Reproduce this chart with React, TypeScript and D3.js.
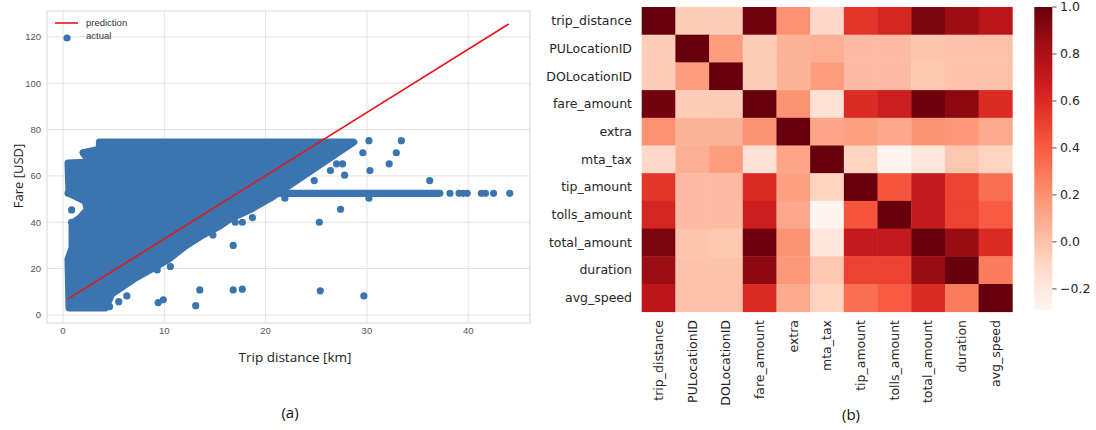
import React from "react";
import * as d3 from "d3";

// ---- (a) scatter: fare vs trip distance ----
// envelope of the dense point cloud (dot centres, km / USD)
const cloudOutline: [number, number][] = [
  [0.6, 3], [4.2, 3], [4.8, 9], [7, 15.5], [8.8, 20], [10.4, 24], [12, 29.5],
  [13.6, 34], [15.5, 38.5], [16.5, 41.5], [18.5, 45.5], [20.5, 50.5], [21.5, 53.5],
  [28.7, 74.6], [3.6, 74.6], [3.6, 71.5], [2, 70], [2.6, 66], [0.5, 65.5],
  [0.6, 52.5], [2.2, 49], [2.4, 45.5], [1.7, 42], [0.9, 39.5], [0.9, 29],
  [0.5, 24],
];
// flat-fare band
const bandX = [0.5, 37.2];
const bandY = 52.5;
// isolated trips
const outlierX = [30.2, 33.4, 29.6, 32.9, 27.0, 27.6, 26.4, 27.8, 30.3, 32.2, 24.8, 36.2,
  38.2, 39.1, 39.5, 39.9, 41.3, 41.7, 42.5, 44.1, 21.9, 30.2, 27.4, 17.0, 17.7, 18.7,
  25.3, 16.8, 16.8, 17.7, 25.4, 29.7, 13.5, 13.1, 9.3, 10.6, 9.4, 9.9, 5.5, 6.3, 4.3,
  4.6, 9.9, 14.8, 0.85, 0.85, 1.7, 2.0];
const outlierY = [75.2, 75.2, 70, 70, 65.2, 65.2, 62.3, 60.3, 62.3, 65.2, 58, 58,
  52.5, 52.5, 52.5, 52.5, 52.5, 52.5, 52.5, 52.5, 50.4, 50.4, 45.6, 40, 40, 42,
  40, 30, 10.8, 11.1, 10.4, 8.2, 10.8, 4, 19.4, 20.9, 5.3, 6.5, 5.7, 8.2, 5,
  3.6, 24.5, 34.5, 45.3, 40, 39.8, 70];
// regression line end points
const predX = [0.5, 44];
const predY = [6.9, 125.6];
const xTicks = [0, 10, 20, 30, 40];
const yTicks = [0, 20, 40, 60, 80, 100, 120];

// ---- (b) correlation heatmap ----
const features = ["trip_distance", "PULocationID", "DOLocationID", "fare_amount", "extra",
  "mta_tax", "tip_amount", "tolls_amount", "total_amount", "duration", "avg_speed"];
const corr = [
  [1, -0.05, -0.05, 0.97, 0.2, -0.1, 0.55, 0.63, 0.95, 0.85, 0.74],
  [-0.05, 1, 0.15, -0.05, 0.06, 0.08, 0.03, 0.03, -0.01, 0.0, 0.0],
  [-0.05, 0.15, 1, -0.04, 0.06, 0.15, 0.03, 0.03, -0.02, 0.0, 0.0],
  [0.97, -0.05, -0.04, 1, 0.19, -0.15, 0.6, 0.67, 0.98, 0.9, 0.6],
  [0.2, 0.06, 0.06, 0.19, 1, 0.12, 0.14, 0.11, 0.19, 0.17, 0.1],
  [-0.1, 0.08, 0.15, -0.15, 0.12, 1, -0.08, -0.29, -0.18, -0.02, -0.08],
  [0.55, 0.03, 0.03, 0.6, 0.14, -0.08, 1, 0.43, 0.7, 0.5, 0.33],
  [0.63, 0.03, 0.03, 0.67, 0.11, -0.29, 0.43, 1, 0.7, 0.5, 0.4],
  [0.95, -0.01, -0.02, 0.98, 0.19, -0.18, 0.7, 0.7, 1, 0.86, 0.6],
  [0.85, 0.0, 0.0, 0.9, 0.17, -0.02, 0.5, 0.5, 0.86, 1, 0.28],
  [0.74, 0.0, 0.0, 0.6, 0.1, -0.08, 0.33, 0.4, 0.6, 0.28, 1],
];
const cbarTicks = [-0.2, 0, 0.2, 0.4, 0.6, 0.8, 1.0];

const BLUE = "#3a75b0";
const DOT_R = 3.6;

const App = () => {
  // scatter scales
  const x = d3.scaleLinear().domain([-1.58, 46.1]).range([47, 530]);
  const y = d3.scaleLinear().domain([-3.5, 131.2]).range([323, 11]);
  const line = d3.line<[number, number]>().x((d) => x(d[0])).y((d) => y(d[1]));

  // heatmap scales
  const hx = d3.scaleBand().domain(features).range([641.7, 1012.3]);
  const hy = d3.scaleBand().domain(features).range([7, 311.7]);
  const vmin = d3.min(corr.flat()) as number;
  const color = d3.scaleSequential(d3.interpolateReds).domain([vmin, 1]);
  const cb = d3.scaleLinear().domain([vmin, 1]).range([310, 7]);
  const fmt = d3.format(".1f");
  const stops = d3.range(0, 1.0001, 0.05);

  const tickFont = "'Liberation Sans', Arial, sans-serif";
  const hmFont = "'DejaVu Sans', sans-serif";

  return (
    <svg width={1096} height={430}
      style={{ position: "absolute", left: 0, top: 0, background: "#fff" }}>
      <defs>
        <linearGradient id="cbar" x1="0" x2="0" y1="1" y2="0">
          {stops.map((t) => (
            <stop key={t} offset={`${t * 100}%`} stopColor={d3.interpolateReds(t)} />
          ))}
        </linearGradient>
      </defs>

      {/* ---------- (a) ---------- */}
      <g>
        {xTicks.map((t) => (
          <line key={"gx" + t} x1={x(t)} x2={x(t)} y1={11} y2={323} stroke="#e2e2e2" />
        ))}
        {yTicks.map((t) => (
          <line key={"gy" + t} x1={47} x2={530} y1={y(t)} y2={y(t)} stroke="#e2e2e2" />
        ))}
        <rect x={47} y={11} width={483} height={312} fill="none" stroke="#d8d8d8" />

        <path d={line(cloudOutline) + "Z"} fill={BLUE} stroke={BLUE}
          strokeWidth={DOT_R * 2} strokeLinejoin="round" />
        <line x1={x(bandX[0])} x2={x(bandX[1])} y1={y(bandY)} y2={y(bandY)}
          stroke={BLUE} strokeWidth={DOT_R * 2} strokeLinecap="round" />
        {outlierX.map((v, i) => (
          <circle key={"o" + i} cx={x(v)} cy={y(outlierY[i])} r={DOT_R} fill={BLUE} />
        ))}
        <line x1={x(predX[0])} y1={y(predY[0])} x2={x(predX[1])} y2={y(predY[1])}
          stroke="#e8141a" strokeWidth={1.6} />

        {xTicks.map((t) => (
          <text key={"tx" + t} x={x(t)} y={334} textAnchor="middle" fontSize={9.5}
            fill="#555" fontFamily={tickFont}>{t}</text>
        ))}
        {yTicks.map((t) => (
          <text key={"ty" + t} x={41} y={y(t) + 3.3} textAnchor="end" fontSize={9.5}
            fill="#555" fontFamily={tickFont}>{t}</text>
        ))}

        {/* legend */}
        <line x1={55} x2={78} y1={23} y2={23} stroke="#e8141a" strokeWidth={1.6} />
        <text x={86} y={26} fontSize={9.5} fill="#333" fontFamily={tickFont}>prediction</text>
        <circle cx={67} cy={38} r={DOT_R} fill={BLUE} />
        <text x={86} y={39} fontSize={9.5} fill="#333" fontFamily={tickFont}>actual</text>

        <text x={295} y={362} textAnchor="middle" fontSize={13.5} fill="#222"
          fontFamily="'Open Sans', sans-serif">Trip distance [km]</text>
        <text transform="translate(23,176) rotate(-90)" textAnchor="middle" fontSize={13}
          fill="#222" fontFamily="'Open Sans', sans-serif">Fare [USD]</text>
        <text x={290} y={418} textAnchor="middle" fontSize={15} fill="#111"
          fontFamily="'Open Sans', sans-serif">(a)</text>
      </g>

      {/* ---------- (b) ---------- */}
      <g>
        {corr.map((row, i) =>
          row.map((v, j) => (
            <rect key={`c${i}-${j}`} x={hx(features[j])} y={hy(features[i])}
              width={hx.bandwidth() + 0.4} height={hy.bandwidth() + 0.4} fill={color(v)} />
          ))
        )}
        {features.map((f) => (
          <text key={"r" + f} x={632} y={(hy(f) as number) + hy.bandwidth() / 2 + 4.3}
            textAnchor="end" fontSize={12.5} fill="#262626" fontFamily={hmFont}>{f}</text>
        ))}
        {features.map((f) => (
          <text key={"c" + f}
            transform={`translate(${(hx(f) as number) + hx.bandwidth() / 2 + 4.3},320) rotate(-90)`}
            textAnchor="end" fontSize={12.5} fill="#262626" fontFamily={hmFont}>{f}</text>
        ))}

        {/* colour bar */}
        <rect x={1034.3} y={7} width={18} height={303} fill="url(#cbar)" />
        {cbarTicks.map((t) => (
          <g key={"cb" + t}>
            <line x1={1052.3} x2={1056.5} y1={cb(t)} y2={cb(t)} stroke="#262626" strokeWidth={0.8} />
            <text x={1060} y={cb(t) + 4.3} fontSize={12.5} fill="#262626"
              fontFamily={hmFont}>{fmt(t)}</text>
          </g>
        ))}
        <text x={851} y={420} textAnchor="middle" fontSize={15} fill="#111"
          fontFamily="'Open Sans', sans-serif">(b)</text>
      </g>
    </svg>
  );
};

export default App;
